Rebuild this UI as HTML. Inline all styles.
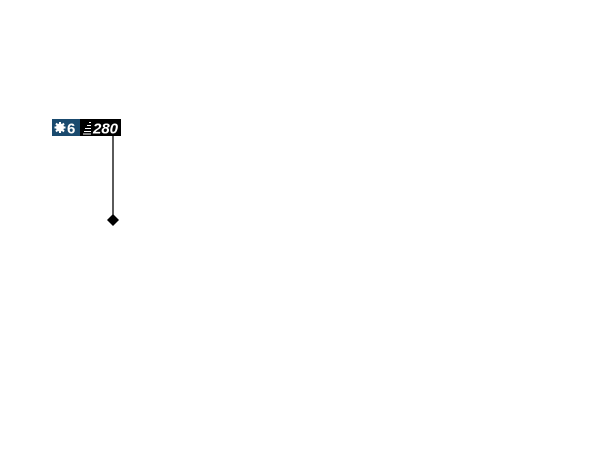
<!DOCTYPE html>
<html><head><style>
body{margin:0;width:600px;height:468px;background:#fff;position:relative;overflow:hidden;font-family:"Liberation Sans",sans-serif}
</style></head><body>
<div style="position:absolute;left:52px;top:119px;width:28px;height:17px;background:#1a4a6e"></div>
<div style="position:absolute;left:80px;top:119px;width:41px;height:17px;background:#000"></div>
<svg width="600" height="468" style="position:absolute;left:0;top:0">
<g fill="#fff"><circle cx="60" cy="127.5" r="4"/>
<g stroke="#fff" stroke-width="2"><line x1="60" y1="122" x2="60" y2="133"/><line x1="54.5" y1="127.5" x2="65.5" y2="127.5"/><line x1="56" y1="123.5" x2="64" y2="131.5"/><line x1="64" y1="123.5" x2="56" y2="131.5"/></g></g>
<text x="67" y="133.5" fill="#fff" font-family="Liberation Sans" font-weight="bold" font-size="15">6</text>
<g stroke="#fff" stroke-width="1"><line x1="89" y1="122.5" x2="91" y2="122.5"/><line x1="87" y1="125.5" x2="91" y2="125.5"/><line x1="85" y1="128.5" x2="91" y2="128.5"/><line x1="84" y1="131.5" x2="91" y2="131.5"/><line x1="83" y1="134" x2="91" y2="134"/></g>
<text x="93" y="133.5" fill="#fff" font-family="Liberation Sans" font-weight="bold" font-style="italic" font-size="15">280</text>
<line x1="113" y1="136" x2="113" y2="218" stroke="#000" stroke-width="1.3"/>
<polygon points="113,214 119,220 113,226 107,220" fill="#000"/>
</svg>
</body></html>
